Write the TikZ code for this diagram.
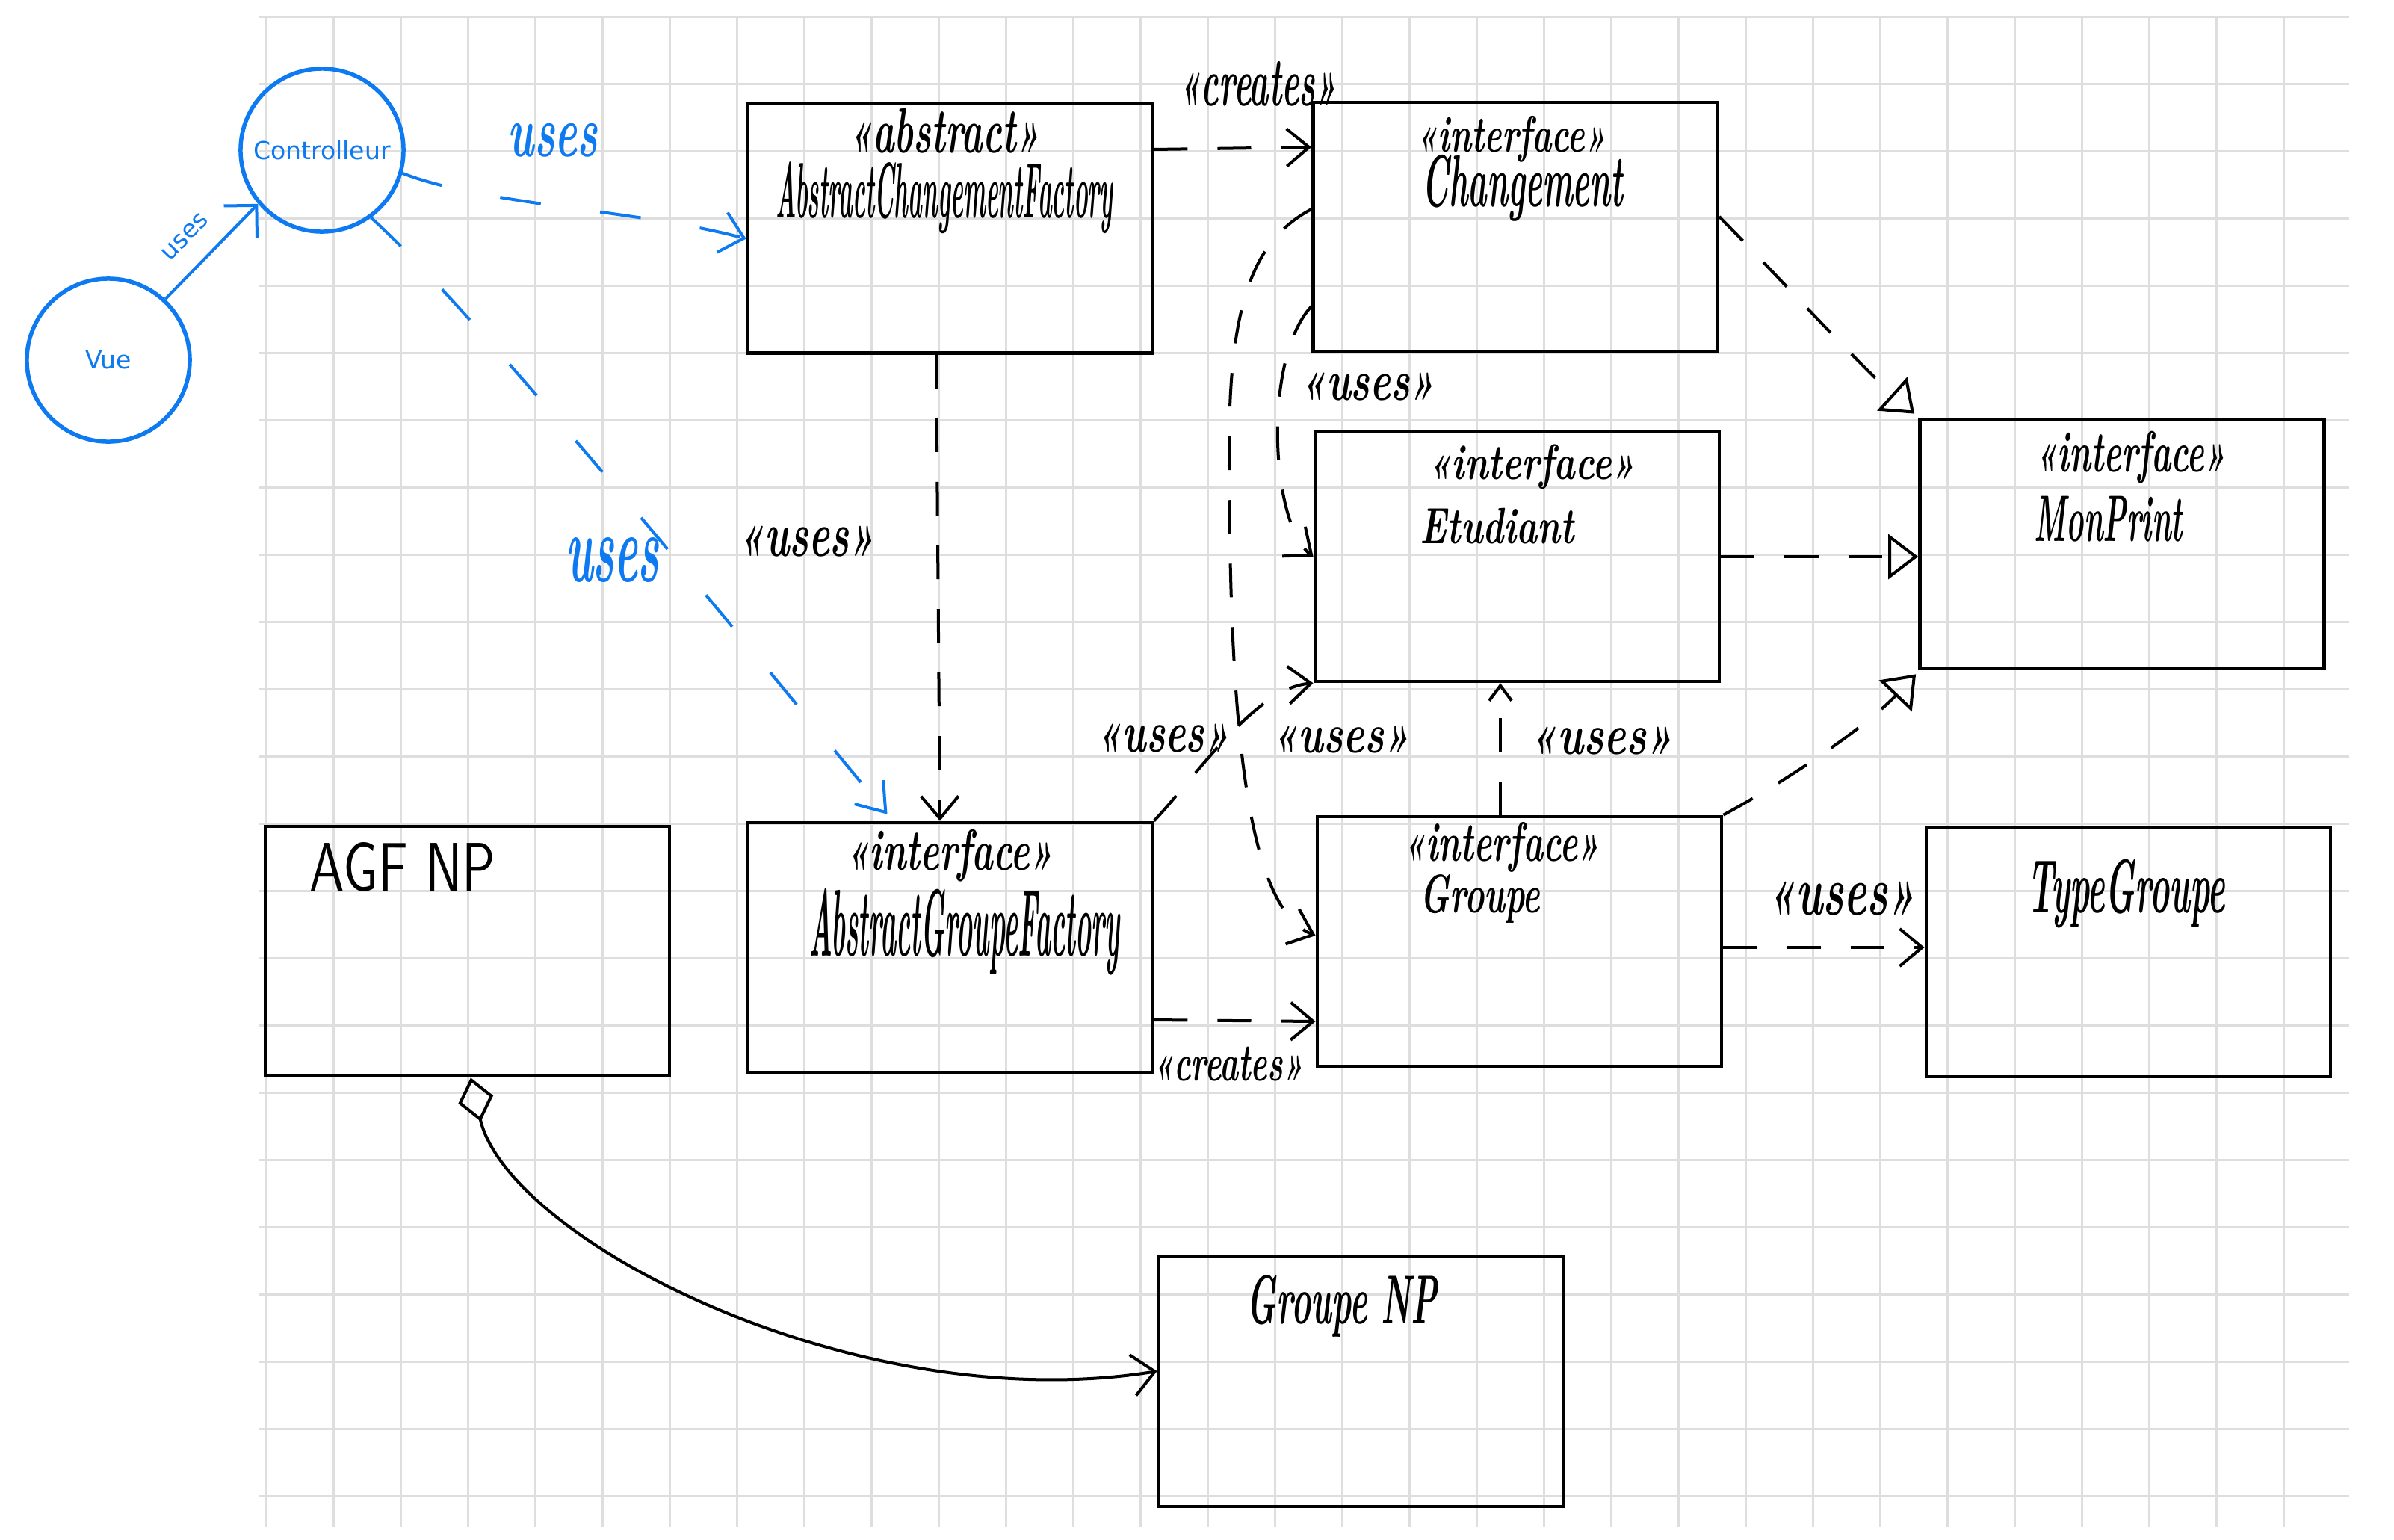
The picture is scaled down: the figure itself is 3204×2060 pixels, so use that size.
\documentclass[tikz,border=0pt]{standalone}
\usepackage{fontspec}
\usepackage{graphicx}
\usetikzlibrary{arrows.meta}
\newfontfamily\dvs{DejaVu Sans}
\definecolor{ublue}{RGB}{13,122,242}
\definecolor{gridc}{RGB}{222,222,222}
\newcommand{\hw}[3]{\resizebox*{#1}{#2}{\bfseries\itshape #3}}
\newcommand{\hwu}[3]{\resizebox*{#1}{#2}{\sffamily #3}}
\begin{document}
\begin{tikzpicture}[x=0.01cm,y=-0.01cm,
  box/.style={draw,line width=0.45mm,rectangle,inner sep=0,minimum width=54.1mm,minimum height=33.4mm},
  circ/.style={draw=ublue,line width=0.55mm,circle,minimum size=21.8mm,inner sep=0,text=ublue,font=\dvs\fontsize{9.4pt}{11pt}\selectfont},
  txt/.style={inner sep=0},
  conn/.style={line width=0.4mm},
  dsh/.style={conn,dash pattern=on 4.5mm off 4mm},
  bdsh/.style={line width=0.4mm,draw=ublue,dash pattern=on 5.5mm off 8mm},
  barb/.style={-{Straight Barb[length=3mm,width=5mm]}},
  tri/.style={-{Triangle[open,length=4mm,width=6mm]}},
]
\useasboundingbox (0,0) rectangle (3204,2060);
\fill[white] (0,0) rectangle (3204,2060);
% grid
\foreach \i in {0,...,30} \draw[gridc,line width=0.3mm] ({356+90*\i},22) -- ({356+90*\i},2044);
\foreach \j in {0,...,22} \draw[gridc,line width=0.3mm] (347,{22+90*\j}) -- (3144,{22+90*\j});

% boxes
\node[box] (acf) at (1271.5,305.5) {};
\node[box] (chg) at (2028,304) {};
\node[box] (etu) at (2030.5,745) {};
\node[box] (mon) at (2840,728) {};
\node[box] (agfnp) at (625.5,1273) {};
\node[box] (agf) at (1271.5,1268) {};
\node[box] (grp) at (2033.5,1260) {};
\node[box] (tg) at (2848.5,1274) {};
\node[box] (gnp) at (1821.5,1849) {};

% circles
\node[circ] (ctrl) at (431,201) {Controlleur};
\node[circ] (vue) at (145,482) {Vue};

% texts
\node[txt] (tAcfS) at (1264,175) {\hw{25.5mm}{6mm}{<<abstract>>}};
\node[txt] (tAcfN) at (1264,265) {\hw{45.1mm}{9.6mm}{AbstractChangementFactory}};
\node[txt] (tCr1) at (1684,112) {\hw{21mm}{6mm}{<<creates>>}};
\node[txt] (tChgS) at (2023,186) {\hw{25.5mm}{6.2mm}{<<interface>>}};
\node[txt] (tChgN) at (2038,252) {\hw{26.9mm}{8.9mm}{Changement}};
\node[txt] (tUs1) at (1831,518) {\hw{18mm}{3.7mm}{<<uses>>}};
\node[txt] (tEtuS) at (2050,625) {\hw{27.7mm}{6mm}{<<interface>>}};
\node[txt] (tEtuN) at (2004,704) {\hw{20.6mm}{4.8mm}{Etudiant}};
\node[txt] (tMonS) at (2852,612) {\hw{25.5mm}{7mm}{<<interface>>}};
\node[txt] (tMonN) at (2822,695) {\hw{19.8mm}{6.1mm}{MonPrint}};
\node[txt] (tUs2) at (1080,725) {\hw{18.2mm}{4.1mm}{<<uses>>}};
\node[txt] (tUs3) at (1557,988) {\hw{17.8mm}{3.8mm}{<<uses>>}};
\node[txt] (tUs4) at (1795,990) {\hw{18.4mm}{3.6mm}{<<uses>>}};
\node[txt] (tUs5) at (2144,992) {\hw{19.2mm}{3.7mm}{<<uses>>}};
\node[txt] (tAgfS) at (1271,1145) {\hw{27.7mm}{7mm}{<<interface>>}};
\node[txt] (tAgfN) at (1291,1247) {\hw{41.5mm}{11.6mm}{AbstractGroupeFactory}};
\node[txt] (tGrpS) at (2010,1134) {\hw{26.3mm}{6.7mm}{<<interface>>}};
\node[txt] (tGrpN) at (1981,1203) {\hw{16.1mm}{6.5mm}{Groupe}};
\node[txt] (tCr2) at (1644,1424) {\hw{20.1mm}{4.6mm}{<<creates>>}};
\node[txt] (tUs6) at (2465,1203) {\hw{19.9mm}{4.5mm}{<<uses>>}};
\node[txt] (tTgN) at (2846,1196) {\hw{26.5mm}{9.2mm}{TypeGroupe}};
\node[txt] (tAgfnpN) at (539,1160) {\hwu{24.8mm}{6.6mm}{AGF NP}};
\node[txt] (tGnpN) at (1796,1748) {\hw{25.4mm}{8.3mm}{Groupe NP}};
\node[txt,text=ublue] (tU1) at (740,188) {\hw{12mm}{4.5mm}{uses}};
\node[txt,text=ublue] (tU2) at (820,750) {\hw{12.5mm}{6mm}{uses}};

% blue connectors
\draw[ublue,line width=0.4mm,-{Straight Barb[length=3.1mm,width=6.2mm]}] (vue.47) -- (ctrl.220)
  node[pos=0.44,sloped,above=2.8mm,inner sep=0,text=ublue,font=\dvs\fontsize{9.4pt}{11pt}\selectfont] (tVu) {uses};
\draw[bdsh,-{Straight Barb[length=3mm,width=5.5mm]}] (ctrl.-16) .. controls (650,275) and (850,280) .. ([yshift=-1.4mm]acf.west);
\draw[bdsh,-{Straight Barb[length=3.5mm,width=5mm]}] (ctrl.-54) .. controls (640,420) and (1030,900) .. ([xshift=-8.4mm,yshift=0.9mm]agf.north);

% black connectors
\draw[dsh,barb] (acf.east |- 0,200) -- (chg.west |- 0,197);
\draw[dsh,barb] (1253,0 |- acf.south) -- (1258,0 |- agf.north);
\draw[dsh,barb] (chg.west |- 0,280) .. controls (1680,320) and (1645,400) .. (1645,600) .. controls (1645,950) and (1665,1215) .. (grp.west |- 0,1252);
\draw[dsh,barb] (chg.west |- 0,410) .. controls (1690,480) and (1700,700) .. (etu.west);
\draw[dsh,barb] (agf.north east) .. controls (1600,1040) and (1680,920) .. (etu.south west);
\draw[dsh,tri] (chg.east |- 0,290) .. controls (2380,370) and (2480,480) .. ([xshift=-0.5mm,yshift=0.5mm]mon.north west);
\draw[dsh,tri] (etu.east) -- (mon.west |- etu.east);
\draw[dsh,tri] (grp.north east) .. controls (2400,1040) and (2500,970) .. ([xshift=-0.3mm,yshift=-0.5mm]mon.south west);
\draw[dsh,-{Straight Barb[length=2mm,width=3mm]}] (2008,0 |- grp.north) -- (2008,0 |- etu.south);
\draw[dsh,barb] (agf.east |- 0,1365) -- (grp.west |- 0,1367);
\draw[dsh,barb] (grp.east |- 0,1268) -- (tg.west |- 0,1268);
\draw[conn,{Diamond[open,length=6mm,width=4.8mm]}-{Straight Barb[length=3mm,width=5.5mm]}] (630,0 |- agfnp.south) .. controls (680,1660) and (1150,1900) .. (gnp.west |- 0,1835);
\end{tikzpicture}
\end{document}
